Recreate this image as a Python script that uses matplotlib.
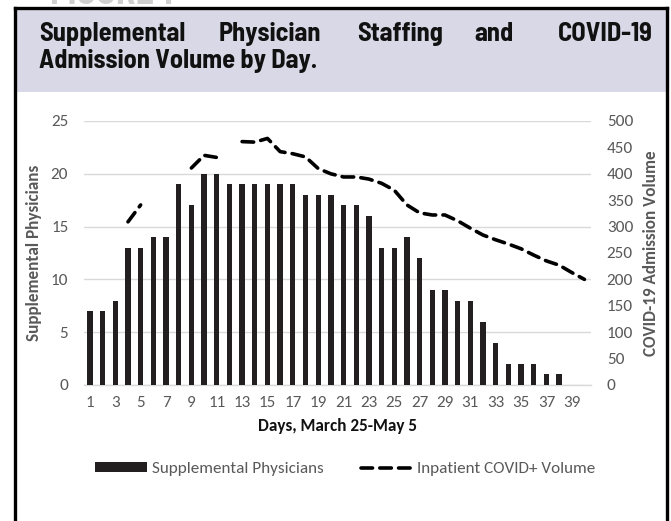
import numpy as np
import matplotlib
matplotlib.use("Agg")
import matplotlib.pyplot as plt
from matplotlib.patches import Rectangle, Patch
from matplotlib.lines import Line2D

# Days 1..40 (ticks labelled every other day)
days = list(range(1, 41))
physicians = [7, 7, 8, 13, 13, 14, 14, 19, 17, 20, 20, 19, 19, 19, 19, 19, 19,
              18, 18, 18, 17, 17, 16, 13, 13, 14, 12, 9, 9, 8, 8, 6, 4, 2, 2, 2,
              1, 1, 0, 0]
nan = np.nan
covid_volume = [nan, nan, nan, 309, 341, nan, nan, nan, 411, 435, 431, nan,
                461, 460, 467, 442, 438, 432, 410, 400, 394, 394, 390, 382, 369,
                341, 326, 322, 322, 311, 297, 284, 275, 267, 258, 246, 235, 227,
                213, 200]
tick_labels = [str(d) for d in days[::2]]

W, H = 671, 521
GREY = "#595959"
FONT = ["Carlito", "Lato", "DejaVu Sans"]
TITLE_FONT = ["Barlow Semi Condensed", "DejaVu Sans"]
FS = 12.3

plt.rcParams["font.family"] = FONT

fig = plt.figure(figsize=(W / 100, H / 100), dpi=100)


def fx(px):
    return px / W


def fy(py):
    return 1 - py / H


# header (mostly cut off at the top, as in the source page)
fig.text(fx(50), fy(4), "FIGURE 1", fontsize=26, fontweight="bold",
         color="#cfcfcf", va="baseline", ha="left", family=TITLE_FONT)

# title box
fig.patches.append(Rectangle((fx(15), fy(92)), fx(652), fy(8) - fy(92),
                             transform=fig.transFigure, facecolor="#d9d8e6",
                             edgecolor="none", zorder=0))
frame_kw = dict(transform=fig.transFigure, color="black", linewidth=2.4)
fig.lines.append(Line2D([fx(15), fx(667)], [fy(8), fy(8)], **frame_kw))
fig.lines.append(Line2D([fx(15), fx(15)], [fy(8), 0], **frame_kw))
fig.lines.append(Line2D([fx(667), fx(667)], [fy(8), 0], **frame_kw))

title_kw = dict(fontsize=19, fontweight="bold", color="#111111",
                family=TITLE_FONT, va="baseline")
words = [("Supplemental", 39, "left"), ("Physician", 270, "center"),
         ("Staffing", 400, "center"), ("and", 494, "center"),
         ("COVID-19", 653, "right")]
for word, x, ha in words:
    fig.text(fx(x), fy(41), word, ha=ha, **title_kw)
fig.text(fx(39), fy(68), "Admission Volume by Day.", ha="left", **title_kw)

# chart
ax = fig.add_axes([fx(83.6), fy(385), fx(590.8) - fx(83.6), fy(121) - fy(385)])
x = np.arange(len(days))
ax.bar(x, physicians, width=0.42, color="#231f20", zorder=3)
ax.set_xlim(-0.5, len(days) - 0.5)
ax.set_ylim(0, 25)
ax.set_yticks(range(0, 26, 5))
ax.grid(axis="y", color="#d9d9d9", linewidth=1.0, zorder=0)
ax.set_xticks(x[::2])
ax.set_xticklabels(tick_labels)
for s in ["top", "left", "right"]:
    ax.spines[s].set_visible(False)
ax.spines["bottom"].set_color("#d9d9d9")
ax.spines["bottom"].set_linewidth(1.0)
ax.tick_params(length=0, labelsize=FS, labelcolor=GREY)
ax.tick_params(axis="y", pad=11)
ax.tick_params(axis="x", pad=8)
ax.set_ylabel("Supplemental Physicians", fontsize=FS, fontweight="bold",
              color=GREY, labelpad=6)
ax.set_xlabel("Days, March 25-May 5", fontsize=FS, fontweight="bold",
              color="#111111", labelpad=6)

ax2 = ax.twinx()
dash = (0, (3.2, 2.0))
ax2.plot(x, covid_volume, color="black", linewidth=2.6,
         linestyle=dash, dash_capstyle="round", zorder=4)
ax2.set_ylim(0, 500)
ax2.set_yticks(range(0, 501, 50))
for s in ["top", "left", "right", "bottom"]:
    ax2.spines[s].set_visible(False)
ax2.tick_params(length=0, labelsize=FS, labelcolor=GREY, pad=11.5)
ax2.set_ylabel("COVID-19 Admission Volume", fontsize=FS, fontweight="bold",
               color=GREY, labelpad=7)

handles = [Patch(facecolor="#231f20", edgecolor="none"),
           Line2D([0], [0], color="black", linewidth=2.6,
                  linestyle=dash, dash_capstyle="round")]
leg = fig.legend(handles, ["Supplemental Physicians", "Inpatient COVID+ Volume"],
                 loc="center", bbox_to_anchor=(fx(345.5), fy(469)), ncol=2,
                 frameon=False, fontsize=FS, handlelength=3.0,
                 handleheight=0.5, columnspacing=2.2, handletextpad=0.3)
for t in leg.get_texts():
    t.set_color(GREY)

fig.savefig("out.png", dpi=100)
